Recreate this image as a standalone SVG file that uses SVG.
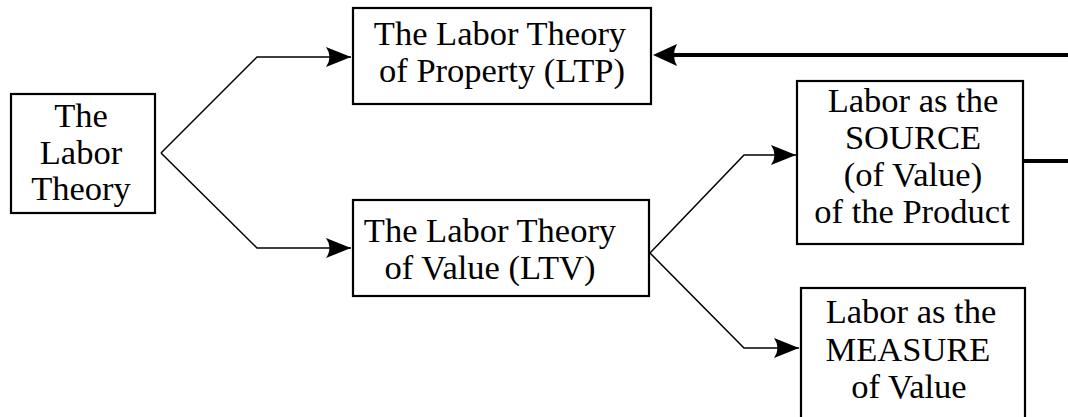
<svg xmlns="http://www.w3.org/2000/svg" width="1068" height="417" viewBox="0 0 1068 417">
<style>
.box{fill:#fff;stroke:#000;stroke-width:2.2}
.t{font-family:"Liberation Serif","Times New Roman",serif;font-size:34.5px;fill:#000;text-anchor:middle}
.thin{fill:none;stroke:#000;stroke-width:1.5}
.thick{fill:none;stroke:#000;stroke-width:4}
</style>
<defs>
<marker id="ah" markerUnits="userSpaceOnUse" markerWidth="28" markerHeight="24" refX="25" refY="11" orient="auto">
<path d="M0,1 Q7,11 0,21 L25,11 Z" fill="#000"/>
</marker>
</defs>
<g id="connectors">
<path class="thin" d="M161,153 L257,57 L351,57" marker-end="url(#ah)"/>
<path class="thin" d="M161,153 L257,248 L351,248" marker-end="url(#ah)"/>
<path class="thin" d="M650,253 L744,155 L796,155" marker-end="url(#ah)"/>
<path class="thin" d="M650,253 L744,348 L799,348" marker-end="url(#ah)"/>
<path class="thick" d="M1068,55 L672,55"/>
<path d="M653,55 L677,44 Q671,55 677,66 Z" fill="#000"/>
<path class="thick" d="M1023,161 L1068,161"/>
</g>
<g id="node-labor-theory">
<rect class="box" x="11" y="94" width="144" height="119"/>
<text class="t" x="81" y="127">The</text>
<text class="t" x="81" y="164">Labor</text>
<text class="t" x="81" y="200">Theory</text>
</g>
<g id="node-ltp">
<rect class="box" x="353" y="8" width="298" height="96"/>
<text class="t" x="500" y="45">The Labor Theory</text>
<text class="t" x="502" y="82">of Property (LTP)</text>
</g>
<g id="node-ltv">
<rect class="box" x="353" y="200" width="296" height="96"/>
<text class="t" x="490" y="242">The Labor Theory</text>
<text class="t" x="490" y="279">of Value (LTV)</text>
</g>
<g id="node-source">
<rect class="box" x="797" y="81" width="226" height="163"/>
<text class="t" x="913" y="112">Labor as the</text>
<text class="t" x="913" y="149">SOURCE</text>
<text class="t" x="913" y="186">(of Value)</text>
<text class="t" x="912" y="223">of the Product</text>
</g>
<g id="node-measure">
<rect class="box" x="801" y="288" width="224" height="140"/>
<text class="t" x="911" y="323">Labor as the</text>
<text class="t" x="908" y="361">MEASURE</text>
<text class="t" x="909" y="398">of Value</text>
</g>
</svg>
